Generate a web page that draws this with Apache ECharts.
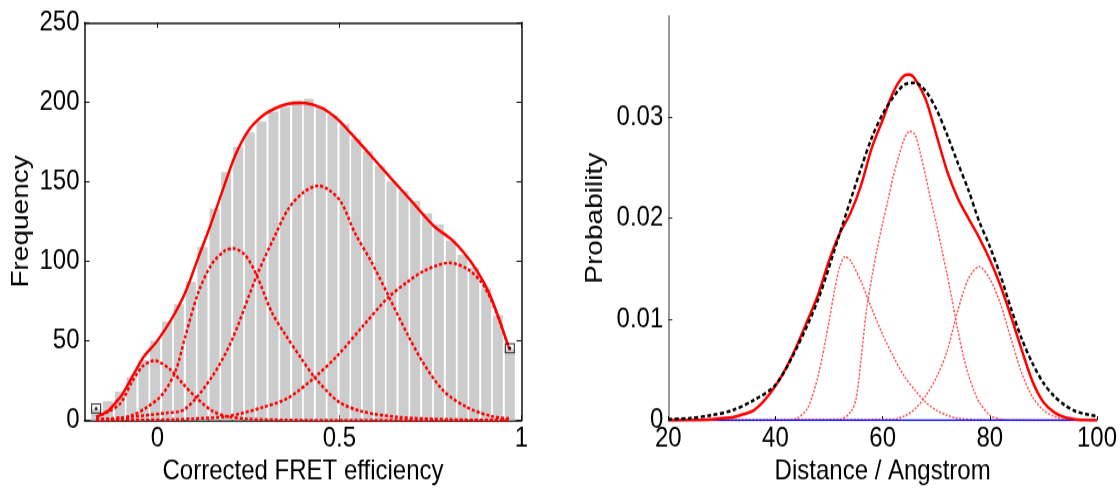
<!DOCTYPE html>
<html>
<head>
<meta charset="utf-8">
<script src="https://cdn.jsdelivr.net/npm/echarts@6/dist/echarts.min.js"></script>
<style>
  html, body { margin: 0; padding: 0; background: #fff; width: 1120px; height: 491px; }
  #wrap { width: 1120px; height: 491px; position: relative; }
  /* the source figure is slightly stretched vertically, text included */
  #chart { position: absolute; left: 0; top: 0; width: 1120px; height: 420px; transform: scaleY(1.16905); transform-origin: 0 0; }
</style>
</head>
<body>
<div id="wrap"><div id="chart"></div></div>
<script>
// ---- left panel: FRET efficiency histogram ----
var binCenters = [-0.168, -0.136, -0.103, -0.071, -0.038, -0.006, 0.027, 0.059, 0.092, 0.124,
  0.157, 0.189, 0.222, 0.254, 0.286, 0.319, 0.351, 0.384, 0.416, 0.449,
  0.481, 0.514, 0.546, 0.578, 0.611, 0.643, 0.676, 0.708, 0.741, 0.773,
  0.806, 0.838, 0.870, 0.903, 0.935, 0.968]
var binCounts = [7, 12, 18, 27, 38, 50, 62, 73, 87, 109,
  133, 156, 172, 181, 188, 194, 197, 201, 202, 197,
  192, 186, 177, 169, 160, 150, 144, 138, 130, 123,
  113, 104, 96, 83, 66, 45]

// total fit (solid)
var fitTotal = [[-0.168, 2], [-0.15, 4], [-0.134, 6], [-0.115, 11], [-0.097, 16], [-0.065, 29],
  [-0.037, 40], [0, 50], [0.04, 64], [0.076, 80], [0.112, 102], [0.145, 122], [0.177, 143],
  [0.213, 166], [0.25, 182], [0.287, 191], [0.323, 196], [0.36, 199], [0.395, 199.5],
  [0.45, 196.4], [0.496, 189], [0.533, 180], [0.588, 166], [0.642, 152], [0.697, 138],
  [0.76, 122], [0.806, 114], [0.843, 105], [0.875, 95], [0.907, 82], [0.935, 66], [0.966, 45]]

// components (dotted)
var fitComp1 = [[-0.168, 2], [-0.13, 6], [-0.1, 11], [-0.07, 24], [-0.04, 34], [-0.008, 37.5],
  [0.035, 32], [0.07, 23], [0.108, 14], [0.15, 6], [0.19, 2.5], [0.25, 0.8], [0.35, 0.2],
  [0.5, 0], [0.968, 0]]
var fitComp2 = [[-0.168, 0.5], [-0.1, 1.5], [-0.07, 3], [-0.03, 8], [0.013, 16], [0.05, 31],
  [0.076, 52], [0.112, 80], [0.149, 98], [0.186, 106.7], [0.209, 108], [0.242, 103.6],
  [0.273, 91], [0.314, 68], [0.351, 54], [0.395, 39], [0.432, 27], [0.496, 12], [0.56, 5.7],
  [0.661, 2], [0.8, 0.5], [0.968, 0]]
var fitComp3 = [[-0.168, 0.3], [-0.1, 1.5], [0.022, 4.5], [0.076, 7], [0.149, 27], [0.204, 50],
  [0.273, 91], [0.323, 116], [0.36, 133], [0.4, 143], [0.441, 147.4], [0.47, 145],
  [0.505, 137], [0.542, 118], [0.588, 99.5], [0.633, 79], [0.687, 54], [0.733, 35],
  [0.788, 18], [0.852, 8], [0.916, 2.6], [0.968, 1]]
var fitComp4 = [[-0.168, 0], [0.05, 0.5], [0.1, 1], [0.195, 2.6], [0.287, 8], [0.359, 14],
  [0.432, 27], [0.496, 41], [0.56, 58], [0.633, 77], [0.687, 87], [0.733, 94], [0.802, 99],
  [0.852, 95], [0.889, 87], [0.916, 76], [0.94, 62], [0.968, 44]]

var endMarks = [[-0.168, 7.4], [0.968, 45.3]]

// ---- right panel: distance distribution ----
var distTotal = [[20, 0], [24, 0.00002], [28, 0.0001], [30, 0.0002], [32, 0.0003], [34, 0.0006],
  [36, 0.001], [38, 0.002], [40, 0.0034], [42, 0.0052], [44, 0.0074], [46, 0.0099], [48, 0.0125],
  [50, 0.0158], [52, 0.0185], [54, 0.0205], [56, 0.0233], [58, 0.027], [60, 0.0297], [62, 0.0325],
  [64, 0.0341], [65, 0.0342], [66, 0.0338], [68, 0.0318], [70, 0.0283], [72, 0.0247], [74, 0.022],
  [76, 0.02], [78, 0.0181], [80, 0.0159], [82, 0.0133], [84, 0.0102], [86, 0.0069], [88, 0.0038],
  [90, 0.0018], [92, 0.0008], [94, 0.0003], [96, 0.0001], [98, 0.00003], [100, 0]]
var distGauss = [[20, 0.0001], [24, 0.0002], [28, 0.0005], [32, 0.001], [36, 0.002], [40, 0.0035],
  [44, 0.0072], [48, 0.012], [52, 0.0185], [56, 0.025], [58, 0.028], [60, 0.0303], [62, 0.032],
  [64, 0.0332], [66, 0.0334], [68, 0.0326], [70, 0.0308], [72, 0.0283], [74, 0.0255], [76, 0.0228],
  [78, 0.0197], [80, 0.0172], [82, 0.0143], [84, 0.011], [86, 0.008], [88, 0.0056], [90, 0.0037],
  [92, 0.0024], [94, 0.0015], [96, 0.0009], [98, 0.0006], [100, 0.0004]]
var distCompA = [[20, 0], [42, 0], [44, 0.0002], [46, 0.0012], [48, 0.0045], [50, 0.0098],
  [51, 0.0128], [52, 0.0152], [53, 0.0162], [54, 0.0158], [56, 0.0137], [58, 0.011], [60, 0.0085],
  [62, 0.0063], [64, 0.0044], [66, 0.003], [68, 0.0018], [70, 0.001], [72, 0.0005], [74, 0.0002],
  [78, 0.00005], [100, 0]]
var distCompB = [[20, 0], [52, 0.0001], [54, 0.0008], [55, 0.002], [56, 0.0062], [57, 0.011],
  [58, 0.0142], [59, 0.017], [60, 0.0195], [61, 0.0218], [62, 0.0242], [63, 0.0261], [64, 0.0278],
  [65, 0.0286], [66, 0.0283], [67, 0.0265], [68, 0.0242], [69, 0.0218], [70, 0.0195], [71, 0.017],
  [72, 0.0145], [73, 0.0118], [74, 0.009], [75, 0.0065], [76, 0.0045], [77, 0.003], [78, 0.0018],
  [80, 0.0005], [82, 0.0001], [84, 0], [100, 0]]
var distCompC = [[20, 0], [62, 0.0001], [64, 0.0004], [66, 0.0011], [68, 0.0024], [70, 0.0042],
  [72, 0.0068], [74, 0.0108], [76, 0.014], [78, 0.0152], [80, 0.014], [82, 0.0115], [84, 0.008],
  [86, 0.0046], [88, 0.0023], [90, 0.001], [92, 0.0004], [94, 0.0001], [96, 0], [100, 0]]
var distBase = [[20, 0], [100, 0]]

var FONT = "'Liberation Sans', Arial, sans-serif"
var labelStyle = { color: '#000', fontSize: 24, fontFamily: FONT }
var nameStyle = { color: '#000', fontSize: 24, fontFamily: FONT }

var chart = echarts.init(document.getElementById('chart'), null, { renderer: 'canvas' })

function line (data, xi, yi, color, width, type, z) {
  return {
    type: 'line',
    xAxisIndex: xi,
    yAxisIndex: yi,
    data: data,
    showSymbol: false,
    smooth: 0.3,
    z: z,
    lineStyle: { color: color, width: width, type: type },
    silent: true
  }
}

chart.setOption({
  animation: false,
  backgroundColor: '#fff',
  grid: [
    { left: 84.5, right: 598.5, top: 19.25, bottom: 58.6 },
    { left: 668.3, right: 21.6, top: 13.7, bottom: 59.3 }
  ],
  xAxis: [
    {
      gridIndex: 0,
      type: 'value',
      min: -0.2,
      max: 1,
      position: 'bottom',
      name: 'Corrected FRET efficiency',
      nameLocation: 'middle',
      nameGap: 31.5,
      nameMoveOverlap: false,
      nameTextStyle: nameStyle,
      axisLine: { show: true, onZero: false, lineStyle: { color: '#111', width: 1.5 } },
      axisTick: { show: true, inside: true, length: 4.5, customValues: [0, 0.5, 1], lineStyle: { color: '#111' } },
      axisLabel: Object.assign({ margin: 4, customValues: [0, 0.5, 1] }, labelStyle),
      splitLine: { show: false }
    },
    {
      gridIndex: 0,
      type: 'value',
      min: -0.2,
      max: 1,
      position: 'top',
      axisLine: { show: true, onZero: false, lineStyle: { color: '#111', width: 1.5 } },
      axisTick: { show: true, inside: true, length: 4.5, customValues: [0, 0.5, 1], lineStyle: { color: '#111' } },
      axisLabel: { show: false },
      splitLine: { show: false }
    },
    {
      gridIndex: 1,
      type: 'value',
      min: 20,
      max: 100,
      interval: 20,
      position: 'bottom',
      name: 'Distance / Angstrom',
      nameLocation: 'middle',
      nameGap: 31.5,
      nameMoveOverlap: false,
      nameTextStyle: nameStyle,
      axisLine: { show: false },
      axisTick: { show: true, inside: true, length: 3.5, lineStyle: { color: '#000' } },
      axisLabel: Object.assign({ margin: 4 }, labelStyle),
      splitLine: { show: false }
    }
  ],
  yAxis: [
    {
      gridIndex: 0,
      type: 'value',
      min: 0,
      max: 250,
      interval: 50,
      position: 'left',
      name: 'Frequency',
      nameLocation: 'middle',
      nameGap: 51,
      nameMoveOverlap: false,
      nameTextStyle: nameStyle,
      axisLine: { show: true, onZero: false, lineStyle: { color: '#111', width: 1.5 } },
      axisTick: { show: true, inside: true, length: 5, lineStyle: { color: '#111' } },
      axisLabel: Object.assign({ margin: 5 }, labelStyle),
      splitLine: { show: false }
    },
    {
      gridIndex: 0,
      type: 'value',
      min: 0,
      max: 250,
      interval: 50,
      position: 'right',
      axisLine: { show: true, onZero: false, lineStyle: { color: '#111', width: 1.5 } },
      axisTick: { show: true, inside: true, length: 5, lineStyle: { color: '#111' } },
      axisLabel: { show: false },
      splitLine: { show: false }
    },
    {
      gridIndex: 1,
      type: 'value',
      min: 0,
      max: 0.04,
      position: 'left',
      name: 'Probability',
      nameLocation: 'middle',
      nameGap: 61,
      nameMoveOverlap: false,
      nameTextStyle: nameStyle,
      axisLine: { show: true, onZero: false, lineStyle: { color: '#777', width: 1.5 } },
      axisTick: { show: true, inside: true, length: 4, customValues: [0, 0.01, 0.02, 0.03], lineStyle: { color: '#222' } },
      axisLabel: Object.assign({ margin: 5, customValues: [0, 0.01, 0.02, 0.03] }, labelStyle),
      splitLine: { show: false }
    }
  ],
  series: [
    {
      type: 'bar',
      xAxisIndex: 0,
      yAxisIndex: 0,
      barWidth: 10,
      data: binCenters.map(function (c, i) { return [c, binCounts[i]] }),
      itemStyle: { color: '#cccccc' },
      z: 1,
      silent: true
    },
    line(fitComp1, 0, 0, '#ff0000', 2.5, [3, 2], 3),
    line(fitComp2, 0, 0, '#ff0000', 2.5, [3, 2], 3),
    line(fitComp3, 0, 0, '#ff0000', 2.5, [3, 2], 3),
    line(fitComp4, 0, 0, '#ff0000', 2.5, [3, 2], 3),
    line(fitTotal, 0, 0, '#ff0000', 2.5, 'solid', 4),
    {
      type: 'scatter',
      xAxisIndex: 0,
      yAxisIndex: 0,
      data: endMarks,
      symbol: 'rect',
      symbolSize: [9, 7.7],
      itemStyle: { color: 'rgba(255,255,255,0.2)', borderColor: '#000', borderWidth: 1 },
      z: 5,
      silent: true
    },
    {
      type: 'scatter',
      xAxisIndex: 0,
      yAxisIndex: 0,
      data: endMarks,
      symbol: 'circle',
      symbolSize: 3,
      itemStyle: { color: '#000' },
      z: 6,
      silent: true
    },
    line(distCompA, 2, 2, '#ff5050', 1.5, [2, 1.5], 3),
    line(distCompB, 2, 2, '#ff5050', 1.5, [2, 1.5], 3),
    line(distCompC, 2, 2, '#ff5050', 1.5, [2, 1.5], 3),
    line(distBase, 2, 2, '#0000ff', 1.5, 'solid', 4),
    line(distTotal, 2, 2, '#ff0000', 2.5, 'solid', 5),
    line(distGauss, 2, 2, '#000000', 2.5, [4, 2.5], 6)
  ]
})
</script>
</body>
</html>
